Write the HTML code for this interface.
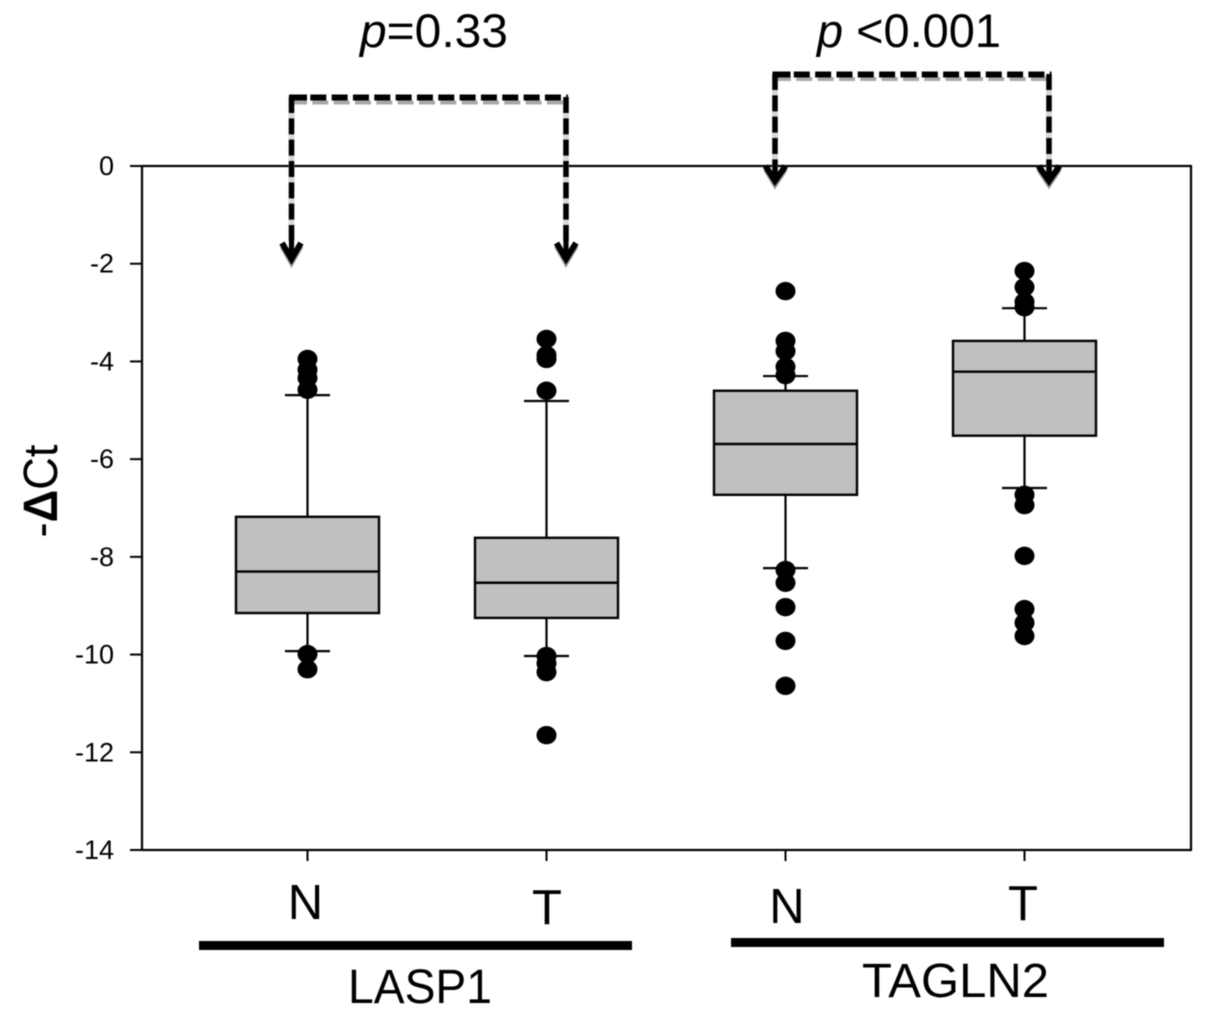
<!DOCTYPE html>
<html lang="en">
<head>
<meta charset="utf-8">
<title>-ΔCt box plot of LASP1 and TAGLN2</title>
<style>
html,body{margin:0;padding:0;background:#fff;width:1205px;height:1016px;overflow:hidden}
svg{display:block;filter:blur(0.4px)}
text{font-family:"Liberation Sans",sans-serif;fill:#000}
</style>
</head>
<body>
<svg id="chart" xmlns="http://www.w3.org/2000/svg" width="1205" height="1016" viewBox="0 0 1205 1016">
  <g id="boxes"></g>
  <g id="axes"></g>

  <g fill="none">
    <path d="M291.5 97V250M566 97V250" stroke="#d8d8d8" stroke-width="6"/>
    <path d="M291 102.5H568" stroke="#a8a8a8" stroke-width="4" stroke-dasharray="16 5.33"/>
    <path d="M289 97.5H568" stroke="#000" stroke-width="6" stroke-dasharray="18 3.3 16 5.33 16 5.33 16 5.33 16 5.33 16 5.33 16 5.33 16 5.33 16 5.33 16 5.33 16 5.33 16 5.33 16 5.33 18"/>
    <path d="M291.5 97V246" stroke="#000" stroke-width="5.5" stroke-dasharray="16 5.33"/>
    <path d="M566 97V246" stroke="#000" stroke-width="5.5" stroke-dasharray="16 5.33"/>
    <path d="M282.5 246L291.5 262L300.5 246" stroke="#999" stroke-width="6"/>
    <path d="M557 246L566 262L575.5 246" stroke="#999" stroke-width="6"/>
    <path d="M282 243L291.5 259L301 243" stroke="#000" stroke-width="6"/>
    <path d="M556.5 243L566 259L576 243" stroke="#000" stroke-width="6"/>
    <path d="M291.5 238V258" stroke="#000" stroke-width="5"/>
    <path d="M566 238V258" stroke="#000" stroke-width="5"/>
  </g>
  <g fill="none">
    <path d="M775 74V170M1049 74V170" stroke="#d8d8d8" stroke-width="6"/>
    <path d="M775 79H1051" stroke="#a8a8a8" stroke-width="4" stroke-dasharray="16 5.33"/>
    <path d="M772.5 74.5H1051.5" stroke="#000" stroke-width="6" stroke-dasharray="18 3.3 16 5.33 16 5.33 16 5.33 16 5.33 16 5.33 16 5.33 16 5.33 16 5.33 16 5.33 16 5.33 16 5.33 16 5.33 18"/>
    <path d="M775 74V172" stroke="#000" stroke-width="5.5" stroke-dasharray="16 5.33"/>
    <path d="M1049 74V172" stroke="#000" stroke-width="5.5" stroke-dasharray="16 5.33"/>
    <path d="M766 169L775 184L785 169" stroke="#999" stroke-width="6"/>
    <path d="M1039 169L1049 184L1059 169" stroke="#999" stroke-width="6"/>
    <path d="M765.5 166L775 181L785.5 166" stroke="#000" stroke-width="6"/>
    <path d="M1038.5 166L1049 181L1059.5 166" stroke="#000" stroke-width="6"/>
    <path d="M775 162V180" stroke="#000" stroke-width="5"/>
    <path d="M1049 162V180" stroke="#000" stroke-width="5"/>
  </g>

  <text x="360" y="47" font-size="47" textLength="148" lengthAdjust="spacingAndGlyphs"><tspan font-style="italic">p</tspan>=0.33</text>
  <text x="817" y="47" font-size="47" textLength="184" lengthAdjust="spacingAndGlyphs"><tspan font-style="italic">p</tspan> &lt;0.001</text>

  <text transform="translate(57 491) rotate(-90)" text-anchor="middle" font-size="48" textLength="93" lengthAdjust="spacingAndGlyphs">-<tspan font-weight="bold">Δ</tspan>Ct</text>

  <text x="305.5" y="919" text-anchor="middle" font-size="49">N</text>
  <text x="547" y="924" text-anchor="middle" font-size="49">T</text>
  <text x="787" y="923" text-anchor="middle" font-size="49">N</text>
  <text x="1023" y="920" text-anchor="middle" font-size="49">T</text>

  <rect x="199" y="941" width="433" height="9" fill="#000"/>
  <rect x="731" y="938" width="433" height="9" fill="#000"/>
  <text x="348" y="1003" font-size="48" textLength="144" lengthAdjust="spacingAndGlyphs">LASP1</text>
  <text x="862" y="997" font-size="48" textLength="187" lengthAdjust="spacingAndGlyphs">TAGLN2</text>
</svg>
<script>
const categories = ['LASP1-N', 'LASP1-T', 'TAGLN2-N', 'TAGLN2-T'];
const q3Values = [-7.18, -7.61, -4.60, -3.58];
const medianValues = [-8.30, -8.53, -5.69, -4.21];
const q1Values = [-9.15, -9.25, -6.73, -5.52];
const whiskerHighValues = [-4.69, -4.81, -4.30, -2.91];
const whiskerLowValues = [-9.93, -10.03, -8.23, -6.59];
const outliersLasp1N = [-3.95, -4.17, -4.34, -4.58, -9.99, -10.30];
const outliersLasp1T = [-3.54, -3.87, -3.95, -4.60, -10.03, -10.18, -10.36, -11.65];
const outliersTagln2N = [-2.56, -3.58, -3.79, -4.11, -4.28, -8.27, -8.53, -9.03, -9.72, -10.64];
const outliersTagln2T = [-2.15, -2.48, -2.78, -2.89, -6.73, -6.94, -7.98, -9.07, -9.35, -9.62];
const outlierSeries = [outliersLasp1N, outliersLasp1T, outliersTagln2N, outliersTagln2T];
const yTickValues = [0, -2, -4, -6, -8, -10, -12, -14];

const NS = 'http://www.w3.org/2000/svg';
const plotLeft = 142, plotRight = 1191, plotTop = 166, plotBottom = 850;
const yMax = 0, yMin = -14;
const firstCategoryX = 307.5, categoryStep = 239;
const boxHalf = 71.5, capHalf = 22.5;

function yScale(v) {
  return plotTop + (yMax - v) / (yMax - yMin) * (plotBottom - plotTop);
}
function xScale(i) {
  return firstCategoryX + i * categoryStep;
}
function mk(tag, attrs, parent) {
  const node = document.createElementNS(NS, tag);
  Object.keys(attrs).forEach(function (k) { node.setAttribute(k, attrs[k]); });
  parent.appendChild(node);
  return node;
}

const boxesGroup = document.getElementById('boxes');
const axesGroup = document.getElementById('axes');

categories.forEach(function (cat, i) {
  const key = cat.toLowerCase();
  const cx = xScale(i);
  const g = mk('g', {}, boxesGroup);
  
  

  const whisker = mk('line', { x1: cx, x2: cx, y1: yScale(whiskerHighValues[i]), y2: yScale(whiskerLowValues[i]), stroke: '#000', 'stroke-width': 2.2 }, g);
  
  

  const capHigh = mk('line', { x1: cx - capHalf, x2: cx + capHalf, y1: yScale(whiskerHighValues[i]), y2: yScale(whiskerHighValues[i]), stroke: '#000', 'stroke-width': 2.2 }, g);
  
  

  const capLow = mk('line', { x1: cx - capHalf, x2: cx + capHalf, y1: yScale(whiskerLowValues[i]), y2: yScale(whiskerLowValues[i]), stroke: '#000', 'stroke-width': 2.2 }, g);
  
  

  const box = mk('rect', { x: cx - boxHalf, y: yScale(q3Values[i]), width: boxHalf * 2, height: yScale(q1Values[i]) - yScale(q3Values[i]), fill: '#c0c0c0', stroke: '#000', 'stroke-width': 2.4 }, g);
  
  

  const median = mk('line', { x1: cx - boxHalf, x2: cx + boxHalf, y1: yScale(medianValues[i]), y2: yScale(medianValues[i]), stroke: '#000', 'stroke-width': 2.4 }, g);
  
  

  outlierSeries[i].forEach(function (v) {
    const dot = mk('ellipse', { cx: cx, cy: yScale(v), rx: 10, ry: 9.2, fill: '#000' }, g);
    
    
  });
});

const frame = mk('rect', { x: plotLeft, y: plotTop, width: plotRight - plotLeft, height: plotBottom - plotTop, fill: 'none', stroke: '#000', 'stroke-width': 2.2 }, axesGroup);



yTickValues.forEach(function (v) {
  const y = yScale(v);
  const tick = mk('line', { x1: plotLeft - 12, x2: plotLeft, y1: y, y2: y, stroke: '#000', 'stroke-width': 2 }, axesGroup);
  
  

  const label = mk('text', { x: 114, y: y + 9, 'text-anchor': 'end', 'font-size': 27 }, axesGroup);
  
  
  label.textContent = String(v);
});

categories.forEach(function (cat, i) {
  const x = xScale(i);
  const tick = mk('line', { x1: x, x2: x, y1: plotBottom, y2: plotBottom + 11, stroke: '#000', 'stroke-width': 2 }, axesGroup);
  
  
});
</script>
</body>
</html>
